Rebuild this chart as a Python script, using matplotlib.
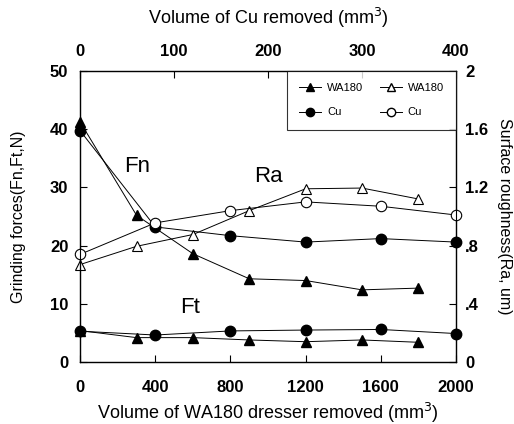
import matplotlib
matplotlib.use("Agg")
import matplotlib.pyplot as plt

plt.rcParams['font.family'] = ['Liberation Sans', 'DejaVu Sans']

# Data
wa_x = [0, 300, 600, 900, 1200, 1500, 1800]      # WA180 dresser removed (mm^3)
cu_x = [0, 80, 160, 240, 320, 400]               # Cu removed (mm^3)

fn_wa = [41.2, 25.2, 18.6, 14.3, 14.0, 12.4, 12.7]
ft_wa = [5.4, 4.2, 4.2, 3.8, 3.5, 3.8, 3.4]
ra_wa = [0.67, 0.795, 0.876, 1.04, 1.19, 1.195, 1.12]

fn_cu = [39.7, 23.2, 21.7, 20.6, 21.2, 20.6]
ft_cu = [5.3, 4.65, 5.35, 5.5, 5.6, 4.9]
ra_cu = [0.74, 0.956, 1.04, 1.10, 1.07, 1.01]

bottom_ticks = [0, 400, 800, 1200, 1600, 2000]
top_ticks = [0, 100, 200, 300, 400]
left_ticks = [0, 10, 20, 30, 40, 50]
right_ticks = [0, 0.4, 0.8, 1.2, 1.6, 2.0]
right_labels = ['0', '.4', '.8', '1.2', '1.6', '2']

fig = plt.figure(figsize=(5.14, 4.24), dpi=100)
ax = fig.add_axes([0.156, 0.146, 0.731, 0.687])
axr = ax.twinx()
axt = ax.twiny()
axtr = axt.twinx()  # Cu vs roughness

lw = 0.7
ms = 7.5
ax.plot(wa_x, fn_wa, color='black', lw=lw, marker='^', ms=ms, mfc='black', mec='black', clip_on=False)
ax.plot(wa_x, ft_wa, color='black', lw=lw, marker='^', ms=ms, mfc='black', mec='black', clip_on=False)
axt.plot(cu_x, fn_cu, color='black', lw=lw, marker='o', ms=ms, mfc='black', mec='black', clip_on=False)
axt.plot(cu_x, ft_cu, color='black', lw=lw, marker='o', ms=ms, mfc='black', mec='black', clip_on=False)
axr.plot(wa_x, ra_wa, color='black', lw=lw, marker='^', ms=ms, mfc='white', mec='black', mew=0.8, clip_on=False)
axtr.plot(cu_x, ra_cu, color='black', lw=lw, marker='o', ms=ms, mfc='white', mec='black', mew=0.8, clip_on=False)

ax.set_xlim(0, 2000)
ax.set_ylim(0, 50)
axt.set_xlim(0, 400)
axt.set_ylim(0, 50)
axr.set_ylim(0, 2)
axtr.set_ylim(0, 2)
axtr.set_yticks([])

tf = dict(fontsize=12, fontweight='bold')
ax.set_xticks(bottom_ticks)
ax.set_xticklabels([str(t) for t in bottom_ticks], **tf)
ax.set_yticks(left_ticks)
ax.set_yticklabels([str(t) for t in left_ticks], **tf)
axt.set_xticks(top_ticks)
axt.set_xticklabels([str(t) for t in top_ticks], **tf)
axr.set_yticks(right_ticks)
axr.set_yticklabels(right_labels, **tf)

for a in (ax, axr, axt):
    a.tick_params(direction='in', length=5, width=0.8)
ax.tick_params(axis='x', pad=13)
ax.tick_params(axis='y', pad=8.5)
axt.tick_params(axis='x', pad=8.5)
axr.tick_params(axis='y', pad=6.5)

ax.set_xlabel('Volume of WA180 dresser removed (mm$^3$)', fontsize=13)
ax.xaxis.set_label_coords(0.5, -0.175)
ax.xaxis.label.set_va('center')
axt.set_xlabel('Volume of Cu removed (mm$^3$)', fontsize=13)
axt.xaxis.set_label_coords(0.5, 1.182)
axt.xaxis.label.set_va('center')
ax.set_ylabel('Grinding forces(Fn,Ft,N)', fontsize=11.5)
ax.yaxis.set_label_coords(-0.165, 0.5)
ax.yaxis.label.set_va('center')
axr.set_ylabel('Surface roughness(Ra, um)', fontsize=11.5, rotation=270)
axr.yaxis.set_label_coords(1.13, 0.5)
axr.yaxis.label.set_va('center')

ax.text(303, 33.5, 'Fn', fontsize=16, ha='center', va='center')
ax.text(1000, 31.9, 'Ra', fontsize=16, ha='center', va='center')
ax.text(585, 9.3, 'Ft', fontsize=16, ha='center', va='center')

# Legend
h1, = ax.plot([], [], color='black', lw=lw, marker='^', ms=6, mfc='black', mec='black')
h2, = ax.plot([], [], color='black', lw=lw, marker='^', ms=6, mfc='white', mec='black')
h3, = ax.plot([], [], color='black', lw=lw, marker='o', ms=6, mfc='black', mec='black')
h4, = ax.plot([], [], color='black', lw=lw, marker='o', ms=6, mfc='white', mec='black')
leg = axtr.legend([h1, h3, h2, h4], ['WA180', 'Cu', 'WA180', 'Cu'], ncol=2,
                  loc='upper right', bbox_to_anchor=(1.0, 1.0), fontsize=8,
                  frameon=True, fancybox=False, edgecolor='black',
                  handlelength=2.0, borderpad=1.1, labelspacing=1.3,
                  columnspacing=1.5, handletextpad=0.5, borderaxespad=0)
leg.get_frame().set_linewidth(0.8)

for a in (ax, axr, axt, axtr):
    for s in a.spines.values():
        s.set_linewidth(0.8)

fig.savefig('out.png', dpi=100)
